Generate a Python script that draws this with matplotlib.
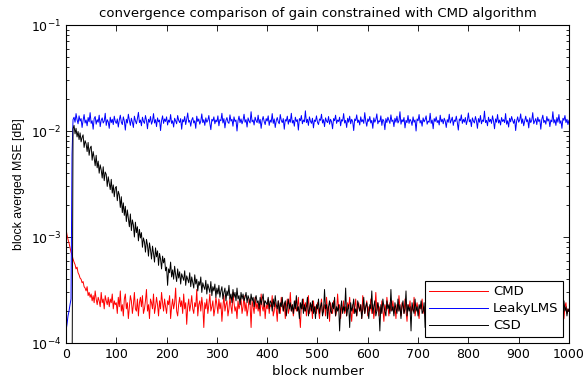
import numpy as np
import matplotlib
matplotlib.use('Agg')
import matplotlib.pyplot as plt

plt.rcParams['font.family'] = ['DejaVu Sans']
plt.rcParams['mathtext.default'] = 'regular'

# block numbers sampled every 2 blocks
block = np.arange(0, 1001, 2)

# CMD, in units of 1e-5
cmd = np.array([
    120, 105, 95, 88, 80, 72, 68, 62, 58, 55, 50, 52, 46, 44, 41, 40, 37, 38, 34, 33, 31, 34, 28, 30, 27,
    29, 25, 28, 24, 31, 26, 23, 27, 25, 22, 30, 24, 26, 21, 28, 25, 23, 27, 22, 26, 24, 29, 21, 25, 23,
    24, 19, 27, 22, 31, 20, 23, 18, 26, 29, 21, 24, 17, 22, 28, 25, 19, 23, 30, 21, 20, 26, 18, 24, 27,
    22, 28, 19, 21, 25, 32, 20, 23, 17, 26, 24, 21, 29, 19, 22, 27, 23, 18, 25, 21, 30, 24, 20, 26, 22,
    19, 25, 23, 28, 17, 22, 26, 21, 24, 33, 20, 18, 23, 27, 22, 25, 19, 29, 21, 24, 15, 22, 26, 20, 23,
    28, 21, 19, 24, 22, 32, 18, 23, 25, 20, 27, 22, 14, 24, 21, 26, 19, 23, 29, 20, 22, 25, 18, 21, 27,
    23, 19, 26, 21, 24, 16, 22, 28, 20, 23, 25, 18, 21, 27, 22, 19, 30, 24, 20, 22, 17, 25, 21, 23, 26,
    19, 22, 28, 20, 24, 18, 21, 26, 23, 14, 25, 22, 19, 27, 21, 24, 20, 23, 18, 29, 22, 20, 25, 17, 23,
    21, 26, 19, 23, 22, 28, 18, 20, 24, 21, 16, 25, 22, 19, 27, 23, 20, 24, 17, 22, 26, 19, 21, 30, 20,
    23, 18, 21, 25, 20, 22, 27, 19, 14, 23, 21, 26, 20, 24, 18, 22, 28, 19, 21, 23, 17, 25, 20, 22, 19,
    24, 20, 17, 22, 26, 19, 21, 23, 18, 27, 20, 22, 16, 24, 21, 19, 25, 22, 18, 20, 29, 21, 23, 17, 22,
    20, 25, 19, 22, 18, 24, 21, 27, 20, 16, 23, 19, 22, 26, 18, 21, 24, 20, 23, 17, 28, 21, 19, 22, 25,
    18, 22, 20, 26, 19, 23, 17, 21, 30, 20, 24, 18, 22, 19, 25, 21, 16, 23, 20, 27, 22, 18, 24, 20, 21,
    25, 19, 22, 17, 23, 20, 28, 21, 18, 24, 22, 19, 26, 20, 16, 23, 21, 25, 19, 22, 20, 27, 18, 21, 24,
    20, 17, 23, 21, 26, 19, 22, 18, 25, 20, 24, 16, 21, 23, 19, 28, 20, 22, 18, 24, 21, 19, 26, 20, 22,
    17, 23, 20, 25, 19, 21, 24, 18, 22, 27, 20, 16, 23, 21, 19, 25, 22, 18, 20, 24, 21, 28, 19, 22, 20,
    23, 18, 21, 26, 20, 17, 24, 22, 19, 21, 25, 20, 23, 16, 22, 27, 19, 21, 24, 18, 20, 23, 26, 19, 21,
    22, 18, 25, 20, 23, 17, 21, 28, 19, 22, 24, 20, 16, 23, 21, 26, 19, 22, 18, 24, 20, 21, 27, 18, 23,
    20, 24, 19, 22, 17, 25, 21, 18, 23, 20, 26, 19, 22, 16, 24, 21, 20, 27, 18, 22, 23, 19, 25, 20, 21,
    17, 23, 20, 26, 19, 22, 18, 24, 21, 20, 16, 23, 25, 19, 22, 18, 21, 27, 20, 23, 17, 22, 24, 19, 21,
    20]) * 1e-5

# LeakyLMS, in units of 1e-4
leaky = np.array([
    1.3, 1.5, 1.8, 2.0, 2.3, 2.6, 60, 128,
    135, 121, 146, 128, 117, 139, 124, 131, 108, 126, 143, 119, 127, 112, 134, 122, 149,
    118, 125, 104, 131, 137, 116, 128, 121, 141, 110, 126, 133, 119, 124, 147, 113, 128, 122,
    106, 135, 120, 129, 115, 138, 123,
    118, 130, 109, 127, 141, 121, 115, 136, 124, 102, 129, 119, 144, 126, 113, 132, 121, 108, 138, 125, 117, 131, 150, 120, 127,
    112, 135, 123, 118, 140, 126, 105, 129, 121, 137, 116, 124, 146, 119, 128, 110, 133, 122, 127, 101, 125, 139, 118, 130, 123,
    136, 114, 127, 121, 143, 118, 125, 109, 132, 124, 117, 140, 126, 120, 131, 104, 128, 122, 137, 115, 129, 148, 121, 126, 111,
    127, 134, 119, 125, 106, 138, 123, 130, 116, 124, 145, 120, 128, 113, 133, 121, 126, 140, 118, 103, 129, 124, 136, 117, 127,
    122, 139, 112, 128, 125, 147, 119, 131, 107, 126, 134, 121, 118, 142, 124, 129, 111, 136, 123, 127, 100, 125, 138, 120, 130,
    117, 126, 144, 121, 128, 109, 133, 124, 119, 152, 122, 127, 114, 135, 125, 120, 141, 118, 129, 106, 126, 137, 123, 115, 131,
    124, 139, 113, 127, 121, 146, 118, 130, 108, 125, 134, 122, 117, 143, 126, 120, 131, 104, 128, 124, 138, 116, 129, 121, 147,
    119, 126, 111, 135, 123, 128, 102, 131, 125, 140, 117, 127, 122, 155, 120, 129, 113, 136, 124, 118, 132, 107, 127, 123, 139,
    121, 115, 130, 126, 144, 119, 128, 110, 133, 124, 120, 137, 116, 129, 122, 105, 131, 125, 141, 118, 127, 123, 135, 112, 128,
    124, 146, 119, 126, 108, 132, 121, 138, 117, 129, 123, 101, 130, 125, 142, 120, 127, 114, 136, 122, 128, 118, 149, 124, 111,
    130, 123, 137, 119, 126, 106, 133, 121, 128, 145, 117, 125, 122, 139, 113, 129, 124, 103, 131, 120, 135, 126, 118, 142, 123,
    127, 110, 132, 121, 138, 119, 125, 152, 116, 128, 122, 134, 107, 126, 120, 140, 118, 129, 124, 113, 136, 121, 127, 100, 130,
    125, 143, 119, 126, 111, 133, 122, 128, 139, 116, 124, 121, 147, 118, 127, 105, 131, 123, 136, 120, 126, 114, 141, 122, 129,
    117, 132, 124, 108, 128, 121, 144, 119, 126, 135, 113, 127, 123, 138, 120, 102, 130, 125, 142, 118, 129, 121, 134, 115, 126,
    148, 122, 128, 110, 133, 124, 119, 137, 125, 106, 131, 121, 140, 117, 127, 123, 154, 120, 126, 112, 135, 122, 129, 118, 139,
    124, 105, 130, 121, 143, 119, 127, 114, 134, 123, 128, 120, 146, 116, 125, 109, 132, 122, 137, 126, 118, 129, 101, 124, 136,
    121, 127, 145, 118, 130, 112, 125, 138, 122, 128, 107, 133, 120, 126, 149, 117, 124, 131, 115, 135, 123, 128, 104, 129, 141,
    120, 126, 116, 137, 124, 130, 110, 127, 122, 152, 119, 128, 113, 134, 121, 143, 118, 125, 106, 132, 126, 140, 120, 129, 115,
    126]) * 1e-4

# CSD, in units of 1e-5
csd = np.array([
    3, 3, 3, 3, 3, 3, 3,
    1050, 1130, 940, 1060, 880, 990, 830, 960, 790, 870, 920, 700, 810, 760, 640, 780, 590, 690,
    720, 530, 640, 560, 470, 590, 450, 520, 400, 480, 430, 360, 460, 340, 410, 390, 300, 370, 320,
    280, 350, 260, 310, 240, 290,
    300, 220, 270, 250, 190, 240, 170, 210, 160, 195, 140, 180, 150, 125, 165, 115, 145, 130, 100, 138, 110, 125, 92, 118, 98,
    110, 80, 98, 90, 72, 95, 84, 66, 88, 76, 62, 82, 70, 58, 79, 65, 74, 54, 70, 62, 50, 66, 57, 63, 48,
    52, 35, 50, 46, 58, 42, 49, 40, 53, 44, 38, 50, 41, 47, 36, 45, 42, 39, 48, 35, 43, 40, 37, 46, 34,
    42, 37, 33, 44, 36, 40, 31, 38, 35, 42, 30, 37, 34, 32, 39, 29, 36, 33, 30, 38, 28, 34, 31, 36, 27,
    33, 29, 35, 27, 31, 34, 26, 30, 33, 25, 31, 28, 35, 26, 29, 24, 32, 27, 30, 25, 33, 26, 28, 23, 30,
    26, 29, 25, 27, 30, 24, 28, 26, 23, 29, 25, 27, 22, 26, 28, 24, 25, 21, 27, 23, 26, 29, 22, 25, 24,
    23, 27, 21, 25, 24, 20, 26, 22, 28, 23, 21, 25, 19, 24, 22, 27, 20, 23, 25, 18, 22, 26, 21, 24, 20,
    23, 19, 25, 21, 28, 20, 22, 17, 24, 21, 26, 19, 23, 20, 22, 27, 18, 21, 24, 20, 25, 19, 22, 17, 23,
    21, 26, 19, 22, 24, 18, 20, 32, 21, 23, 17, 22, 25, 20, 19, 24, 21, 27, 18, 22, 20, 23, 13, 21, 25,
    19, 22, 20, 33, 18, 21, 23, 14, 24, 20, 22, 26, 19, 21, 18, 25, 22, 20, 23, 17, 21, 27, 19, 22, 24,
    20, 17, 23, 21, 31, 19, 22, 25, 18, 20, 24, 21, 13, 23, 19, 26, 22, 20, 18, 25, 21, 23, 19, 32, 20,
    22, 18, 24, 21, 19, 26, 20, 23, 17, 22, 25, 19, 21, 31, 18, 23, 20, 22, 13, 24, 21, 19, 26, 20, 22,
    18, 23, 21, 25, 19, 20, 24, 14, 22, 26, 20, 21, 18, 23, 25, 19, 22, 20, 32, 18, 21, 24, 19, 22, 20,
    23, 19, 26, 21, 17, 22, 24, 20, 18, 25, 21, 23, 19, 31, 20, 22, 17, 24, 21, 19, 23, 26, 20, 22, 18,
    21, 24, 19, 22, 26, 20, 17, 23, 21, 25, 18, 22, 20, 30, 19, 21, 24, 18, 22, 20, 23, 13, 21, 25, 19,
    22, 20, 24, 18, 21, 26, 19, 23, 20, 17, 22, 25, 21, 19, 24, 20, 32, 18, 22, 21, 19, 23, 26, 20, 22,
    18, 24, 21, 19, 23, 30, 20, 22, 17, 21, 25, 19, 22, 20, 24, 18, 23, 21, 26, 19, 20, 22, 17, 24, 21,
    23, 19, 21, 25, 18, 22, 20, 31, 19, 23, 21, 17, 24, 20, 22, 26, 18, 21, 23, 19, 25, 20, 22, 18, 21,
    20]) * 1e-5

fig = plt.figure(figsize=(5.85, 3.83), dpi=100)
ax = fig.add_axes([0.1128, 0.1044, 0.8598, 0.8303])

ax.semilogy(block, cmd, color='#ff0000', lw=0.7, label='CMD')
ax.semilogy(block, leaky, color='#0000ff', lw=0.7, label='LeakyLMS')
ax.semilogy(block, csd, color='black', lw=0.7, label='CSD')

ax.set_xlim(0, 1000)
ax.set_ylim(1e-4, 1e-1)
ax.set_xticks(np.arange(0, 1001, 100))
ax.tick_params(which='both', direction='in', top=True, right=True, labelsize=9, width=0.6)
ax.tick_params(which='major', length=4)
ax.tick_params(which='minor', length=2)
for s in ax.spines.values():
    s.set_linewidth(0.8)

ax.set_title('convergence comparison of gain constrained with CMD algorithm', fontsize=9.5, pad=6)
ax.set_xlabel('block number', fontsize=9.5, labelpad=3)
ax.set_ylabel('block averged MSE [dB]', fontsize=8.8, family='Liberation Sans', labelpad=4)

leg = ax.legend(loc='lower right', bbox_to_anchor=(0.988, 0.019), borderaxespad=0,
                fontsize=9.5, handlelength=4.4, handletextpad=0.4, borderpad=0.35,
                fancybox=False, edgecolor='black', framealpha=1, labelspacing=0.3)
leg.get_frame().set_linewidth(0.8)

fig.savefig('out.png', dpi=100)
